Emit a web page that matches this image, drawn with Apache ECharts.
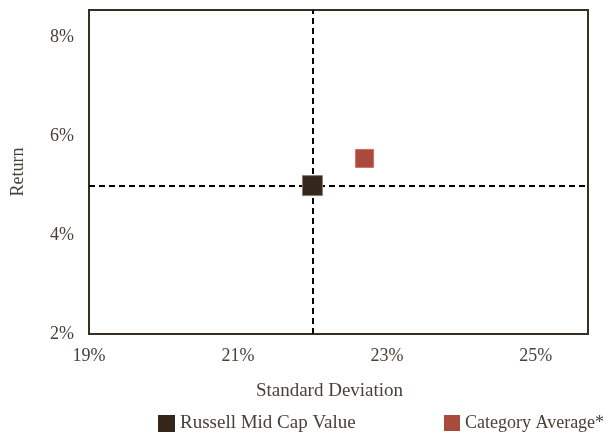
<!DOCTYPE html>
<html>
<head>
<meta charset="utf-8">
<script src="https://cdn.jsdelivr.net/npm/echarts@6/dist/echarts.min.js"></script>
<style>
html, body { margin: 0; padding: 0; background: #fff; }
#chart { width: 608px; height: 435px; }
</style>
</head>
<body>
<div id="chart"></div>
<script>
// 数据
var seriesNames = ['Russell Mid Cap Value', 'Category Average*'];
var stdDev = [22.0, 22.7];
var returns = [5.0, 5.55];
var seriesColors = ['#33261a', '#a84a3c'];
var xTicks = [19, 21, 23, 25];
var yTicks = [2, 4, 6, 8];

var textColor = '#4a4038';
var fontFam = '"Liberation Serif", "DejaVu Serif", serif';

var myChart = echarts.init(document.getElementById('chart'));

var series = [];
// 以基准为中心的十字虚线
series.push({
	type : 'line',
	data : [],
	z : 1,
	markLine : {
		silent : true,
		symbol : 'none',
		label : { show : false },
		lineStyle : { color : '#000', type : [6, 4], width : 2, opacity : 1 },
		emphasis : { disabled : true },
		data : [ { xAxis : stdDev[0] }, { yAxis : returns[0] } ]
	}
});
for (var i = 0; i < seriesNames.length; i++) {
	series.push({
		name : seriesNames[i],
		type : 'scatter',
		symbol : 'rect',
		symbolSize : i == 0 ? 20 : 18,
		itemStyle : {
			color : seriesColors[i],
			opacity : 1,
			borderColor : i == 0 ? '#8a7f76' : '#d86a66',
			borderWidth : 1
		},
		data : [ [ stdDev[i], returns[i] ] ],
		z : 5
	});
}

var option = {
	animation : false,
	grid : {
		left : 89,
		top : 10,
		right : 20,
		bottom : 101,
		containLabel : false,
		outerBoundsMode : 'none',
		show : true,
		borderColor : '#3a2e22',
		borderWidth : 2
	},
	xAxis : {
		type : 'value',
		min : 19,
		max : 25.7,
		interval : 2,
		name : 'Standard Deviation',
		nameLocation : 'middle',
		nameGap : 48,
		nameTextStyle : { color : textColor, fontFamily : fontFam, fontSize : 19, padding : [0, 18, 0, 0] },
		axisLine : { show : true, lineStyle : { color : '#3a2e22', width : 2 } },
		axisTick : { show : false },
		splitLine : { show : false },
		axisLabel : {
			color : textColor,
			fontFamily : fontFam,
			fontSize : 18,
			margin : 13,
			showMaxLabel : false,
			formatter : function(v) {
				return xTicks.indexOf(v) >= 0 ? v + '%' : '';
			}
		}
	},
	yAxis : {
		type : 'value',
		min : 2,
		max : 8.55,
		interval : 2,
		name : 'Return',
		nameLocation : 'middle',
		nameGap : 62,
		nameTextStyle : { color : textColor, fontFamily : fontFam, fontSize : 18 },
		axisLine : { show : true, lineStyle : { color : '#3a2e22', width : 2 } },
		axisTick : { show : false },
		splitLine : { show : false },
		axisLabel : {
			color : textColor,
			fontFamily : fontFam,
			fontSize : 18,
			margin : 15,
			showMaxLabel : false,
			formatter : function(v) {
				return yTicks.indexOf(v) >= 0 ? v + '%' : '';
			}
		}
	},
	legend : [ {
		data : [ seriesNames[0] ],
		left : 153,
		top : 409,
		itemWidth : 17,
		itemHeight : 17,
		itemGap : 4,
		icon : 'rect',
		itemStyle : { borderWidth : 0 },
		textStyle : { color : textColor, fontFamily : fontFam, fontSize : 19 }
	}, {
		data : [ seriesNames[1] ],
		left : 439,
		top : 409,
		itemWidth : 16,
		itemHeight : 16,
		icon : 'rect',
		itemStyle : { borderWidth : 0 },
		textStyle : { color : textColor, fontFamily : fontFam, fontSize : 18 }
	} ],
	series : series
};
myChart.setOption(option);
</script>
</body>
</html>
